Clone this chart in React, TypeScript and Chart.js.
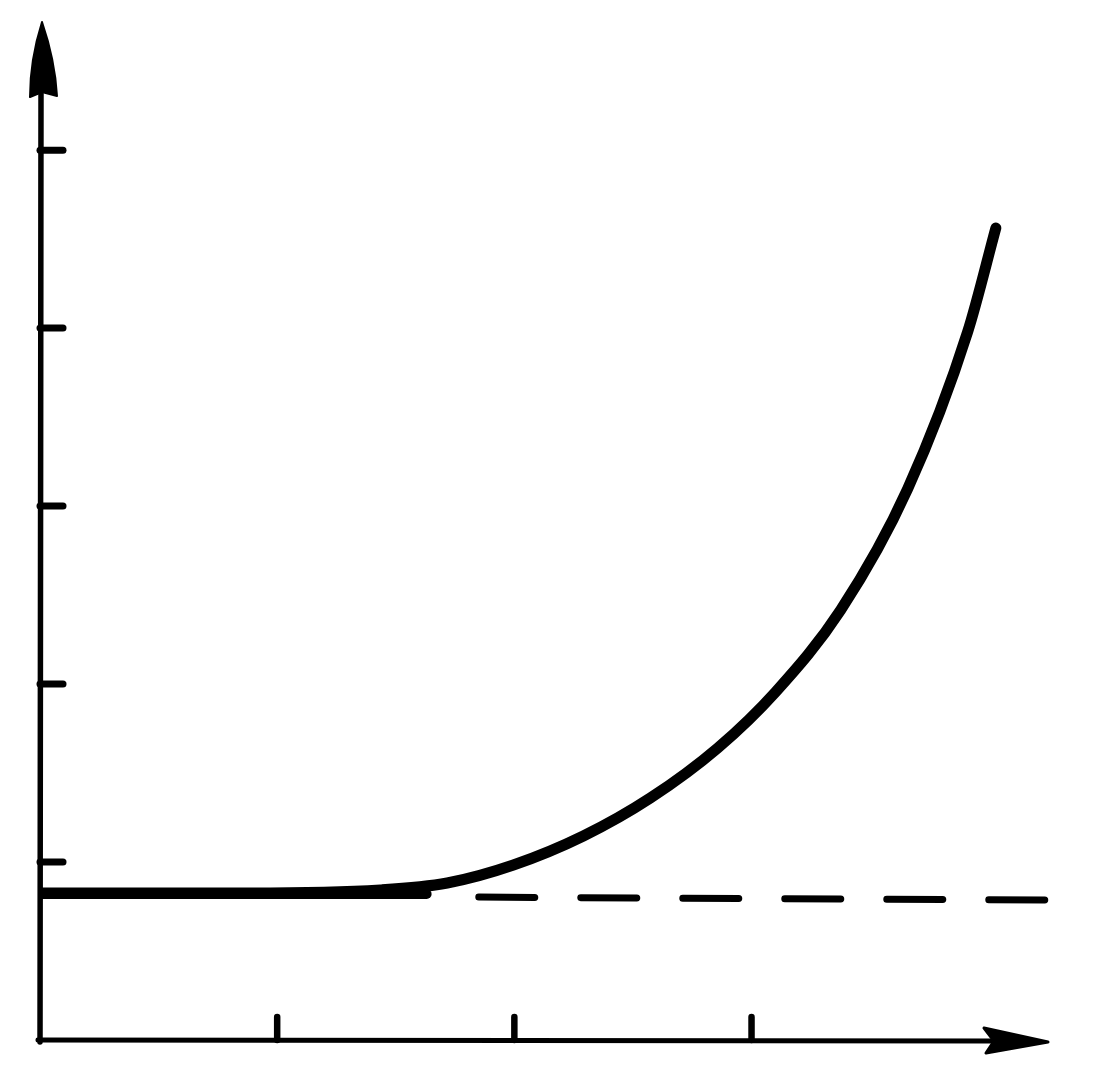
import React, { useEffect, useRef } from "react";
import { Chart, registerables } from "chart.js";

Chart.register(...registerables);

// Axis ranges (data units) and tick positions
const xRange = [0, 4.25];
const yRange = [0, 5.72];
const xTicks = [1, 2, 3];
const yTicks = [1, 2, 3, 4, 5];

// Main rising curve
const curveX = [0, 0.886, 1.435, 1.717, 1.996, 2.291, 2.574, 2.857, 3.101, 3.376, 3.658, 3.911, 4.03];
const curveY = [0.826, 0.826, 0.843, 0.882, 0.983, 1.146, 1.36, 1.64, 1.955, 2.416, 3.096, 3.978, 4.562];

// Baseline: solid part, then dashed continuation
const baseSolidX = [0, 1.63];
const baseSolidY = [0.82, 0.82];
const baseDashX = [1.85, 4.26];
const baseDashY = [0.803, 0.786];

const toPoints = (xs: number[], ys: number[]) => xs.map((x, i) => ({ x, y: ys[i] }));

const handAxes = {
  id: "handAxes",
  beforeDatasetsDraw(chart: any) {
    const ctx = chart.ctx as CanvasRenderingContext2D;
    const xs = chart.scales.x;
    const ys = chart.scales.y;
    const x0 = xs.getPixelForValue(xRange[0]);
    const y0 = ys.getPixelForValue(yRange[0]);
    const xEnd = xs.getPixelForValue(xRange[1]);
    const yEnd = ys.getPixelForValue(yRange[1]);
    ctx.save();
    ctx.strokeStyle = "#000";
    ctx.fillStyle = "#000";
    ctx.lineCap = "round";
    ctx.lineJoin = "round";

    // Y axis
    ctx.lineWidth = 5.5;
    ctx.beginPath();
    ctx.moveTo(x0, y0 + 2);
    ctx.lineTo(x0 + 1, yEnd + 70);
    ctx.stroke();
    ctx.lineWidth = 2;
    ctx.beginPath();
    ctx.moveTo(x0 + 2, yEnd);
    ctx.quadraticCurveTo(x0 + 15, yEnd + 38, x0 + 17, yEnd + 74);
    ctx.lineTo(x0 + 2, yEnd + 70);
    ctx.lineTo(x0 - 10, yEnd + 75);
    ctx.quadraticCurveTo(x0 - 10, yEnd + 38, x0 + 2, yEnd);
    ctx.closePath();
    ctx.fill();
    ctx.stroke();

    // X axis
    ctx.lineWidth = 5;
    ctx.beginPath();
    ctx.moveTo(x0 - 2, y0);
    ctx.lineTo(xEnd - 55, y0 + 1);
    ctx.stroke();
    ctx.lineWidth = 3;
    ctx.beginPath();
    ctx.moveTo(xEnd, y0 + 2);
    ctx.lineTo(xEnd - 64, y0 - 12);
    ctx.lineTo(xEnd - 54, y0 + 1);
    ctx.lineTo(xEnd - 62, y0 + 13);
    ctx.closePath();
    ctx.fill();
    ctx.stroke();

    // Y ticks (inward)
    ctx.lineWidth = 7;
    yTicks.forEach((v) => {
      const p = ys.getPixelForValue(v);
      ctx.beginPath();
      ctx.moveTo(x0, p);
      ctx.lineTo(x0 + 23, p);
      ctx.stroke();
    });
    // X ticks (inward)
    ctx.lineWidth = 6.5;
    xTicks.forEach((v) => {
      const p = xs.getPixelForValue(v);
      ctx.beginPath();
      ctx.moveTo(p, y0);
      ctx.lineTo(p, y0 - 23);
      ctx.stroke();
    });
    ctx.restore();
  },
};

export default function App() {
  const ref = useRef<HTMLCanvasElement | null>(null);
  useEffect(() => {
    if (!ref.current) return;
    const chart = new Chart(ref.current, {
      type: "line",
      data: {
        datasets: [
          {
            data: toPoints(baseSolidX, baseSolidY),
            borderColor: "#000",
            borderWidth: 10,
            borderCapStyle: "round",
            pointRadius: 0,
            tension: 0,
          },
          {
            data: toPoints(baseDashX, baseDashY),
            borderColor: "#000",
            borderWidth: 7,
            borderCapStyle: "round",
            borderDash: [56, 46],
            pointRadius: 0,
            tension: 0,
            clip: false as any,
          },
          {
            data: toPoints(curveX, curveY),
            borderColor: "#000",
            borderWidth: 11,
            borderCapStyle: "round",
            borderJoinStyle: "round",
            pointRadius: 0,
            cubicInterpolationMode: "monotone",
          },
        ],
      },
      options: {
        animation: false,
        responsive: false,
        events: [],
        layout: { padding: { left: 40, right: 51, top: 22, bottom: 45 } },
        plugins: { legend: { display: false }, tooltip: { enabled: false } },
        scales: {
          x: { type: "linear", min: xRange[0], max: xRange[1], display: false },
          y: { type: "linear", min: yRange[0], max: yRange[1], display: false },
        },
      },
      plugins: [handAxes],
    });
    return () => chart.destroy();
  }, []);
  return (
    <div style={{ position: "absolute", left: 0, top: 0, width: 1099, height: 1085, background: "#fff" }}>
      <canvas ref={ref} width={1099} height={1085} style={{ display: "block" }} />
    </div>
  );
}
